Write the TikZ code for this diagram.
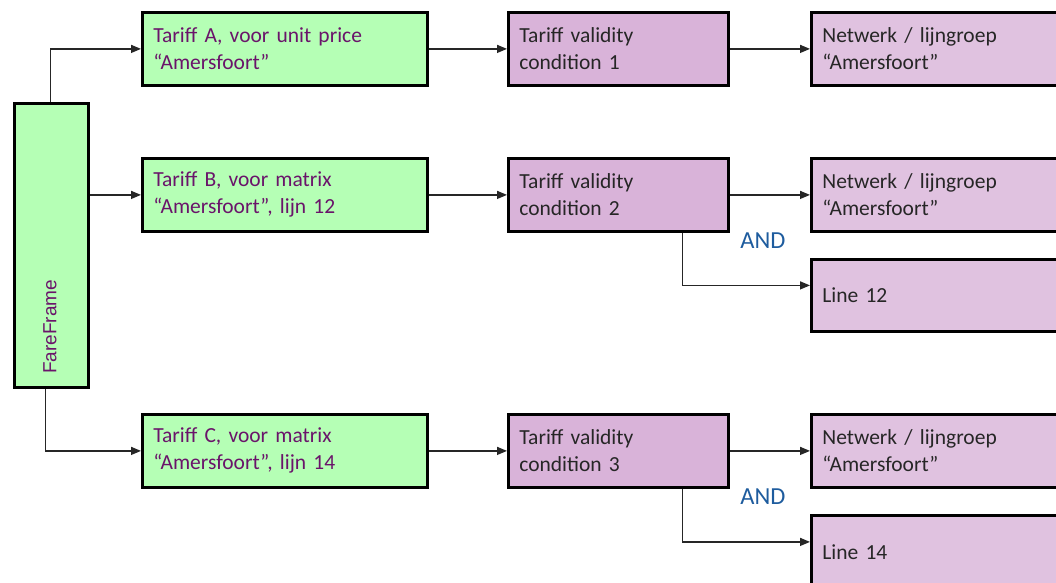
\documentclass[tikz,border=0pt]{standalone}
\usepackage{fontspec}
\setmainfont{Carlito}
\newfontfamily\fframefont{Liberation Sans}
\usetikzlibrary{arrows.meta}
\definecolor{gfill}{RGB}{181,255,181}
\definecolor{pfill}{RGB}{217,179,217}
\definecolor{lfill}{RGB}{224,194,224}
\definecolor{ptext}{RGB}{106,20,106}
\definecolor{andblue}{RGB}{30,92,158}
\tikzset{
  every node/.style={font=\fontsize{21.5}{27}\selectfont},
  box/.style={draw=black, line width=2.8pt, anchor=north west, align=left,
    inner xsep=11pt, inner ysep=0pt, minimum height=73pt},
  greenbox/.style={box, fill=gfill, text=ptext, text width=263pt},
  condbox/.style={box, fill=pfill, text=black!85, text width=198pt},
  rightbox/.style={box, fill=lfill, text=black!85, text width=238pt},
  conn/.style={draw=black!85, line width=1.4pt, -{Triangle[length=10pt,width=8pt]}},
  andlabel/.style={text=andblue, font=\fontsize{24.5}{28}\selectfont}
}
\begin{document}
\begin{tikzpicture}[x=1pt,y=-1pt]
\useasboundingbox (0,0) rectangle (1056,582);
\clip (0,0) rectangle (1056,582);
% FareFrame
\node[draw=black, line width=2.8pt, fill=gfill, anchor=north west,
  minimum width=74pt, minimum height=284pt, inner sep=0pt] (ff) at (13,102) {};
\node[text=ptext, rotate=90, anchor=west, inner sep=0pt,
  font=\fframefont\fontsize{19}{22}\selectfont] (fftext) at (50,374) {FareFrame};
% Tariffs
\node[greenbox] (ta) at (141,11) {Tariff A, voor unit price\\“Amersfoort”};
\node[greenbox] (tb) at (141,157) {Tariff B, voor matrix\\“Amersfoort”, lijn 12};
\node[greenbox] (tc) at (141,413) {Tariff C, voor matrix\\“Amersfoort”, lijn 14};
% Conditions
\node[condbox] (c1) at (507,11) {Tariff validity\\condition 1};
\node[condbox] (c2) at (507,157) {Tariff validity\\condition 2};
\node[condbox] (c3) at (507,413) {Tariff validity\\condition 3};
% Right boxes
\node[rightbox] (n1) at (810,11) {Netwerk / lijngroep\\“Amersfoort”};
\node[rightbox] (n2) at (810,157) {Netwerk / lijngroep\\“Amersfoort”};
\node[rightbox, minimum height=72pt] (l12) at (810,258) {Line 12};
\node[rightbox] (n3) at (810,413) {Netwerk / lijngroep\\“Amersfoort”};
\node[rightbox] (l14) at (810,514) {Line 14};
% AND labels
\node[andlabel] (and1) at (763,241) {AND};
\node[andlabel] (and2) at (763,497) {AND};
% Connectors
\draw[conn] ([xshift=-1pt]ff.north) |- (ta.west);
\draw[conn] (ff.east |- tb.west) -- (tb.west);
\draw[conn] ([xshift=-6pt]ff.south) |- (tc.west);
\draw[conn] (ta.east) -- (c1.west);
\draw[conn] (tb.east) -- (c2.west);
\draw[conn] (tc.east) -- (c3.west);
\draw[conn] (c1.east) -- (n1.west);
\draw[conn] (c2.east) -- (n2.west);
\draw[conn] (c3.east) -- (n3.west);
\draw[conn] ([xshift=64pt]c2.south) |- ([yshift=10pt]l12.west);
\draw[conn] ([xshift=64pt]c3.south) |- ([yshift=10pt]l14.west);
\end{tikzpicture}
\end{document}
